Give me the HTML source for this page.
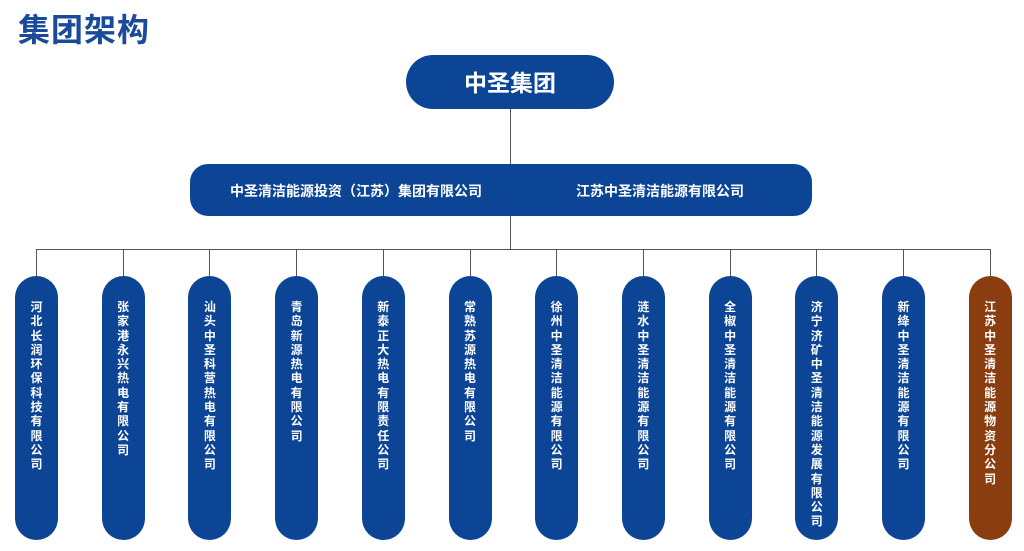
<!DOCTYPE html>
<html><head><meta charset="utf-8"><style>
body{margin:0;width:1024px;height:551px;background:#fff;position:relative;overflow:hidden;font-family:"Liberation Sans","Noto Sans CJK SC",sans-serif;}
.t{position:absolute;left:18px;top:5px;font-size:32px;font-weight:bold;color:#1a4a9a;letter-spacing:1px;}
.b{position:absolute;background:#0d4596;color:#fff;font-weight:bold;}
.top{left:406px;top:55px;width:208px;height:54px;border-radius:27px;font-size:23px;line-height:56px;text-align:center;}
.mid{left:190px;top:164px;width:622px;height:52px;border-radius:18px;font-size:14px;line-height:54px;}
.p{top:276px;width:43px;height:264px;border-radius:21.5px;font-size:12px;line-height:14.3px;text-align:center;padding-top:24px;box-sizing:border-box;}
.l{position:absolute;background:#555;}
</style></head><body>
<div class="t">集团架构</div>
<div class="l" style="left:510px;top:109px;width:1px;height:140px"></div>
<div class="l" style="left:36px;top:249px;width:955px;height:1px"></div>
<div class="b top">中圣集团</div>
<div class="b mid"><span style="position:absolute;left:40px">中圣清洁能源投资（江苏）集团有限公司</span><span style="position:absolute;left:386px">江苏中圣清洁能源有限公司</span></div>
<div id="c"></div>
<script>
var n=["河北长润环保科技有限公司","张家港永兴热电有限公司","汕头中圣科营热电有限公司","青岛新源热电有限公司","新泰正大热电有限责任公司","常熟苏源热电有限公司","徐州中圣清洁能源有限公司","涟水中圣清洁能源有限公司","全椒中圣清洁能源有限公司","济宁济矿中圣清洁能源发展有限公司","新绛中圣清洁能源有限公司","江苏中圣清洁能源物资分公司"];
var h="";for(var i=0;i<12;i++){var cx=36+i*86.7;
h+='<div class="l" style="left:'+(cx)+'px;top:249px;width:1px;height:27px"></div>';
h+='<div class="b p" style="left:'+(cx-21)+'px;'+(i==11?'background:#8a3d0f;':'')+'">'+n[i].split("").join("<br>")+'</div>';}
document.getElementById("c").innerHTML=h;
</script>
</body></html>
